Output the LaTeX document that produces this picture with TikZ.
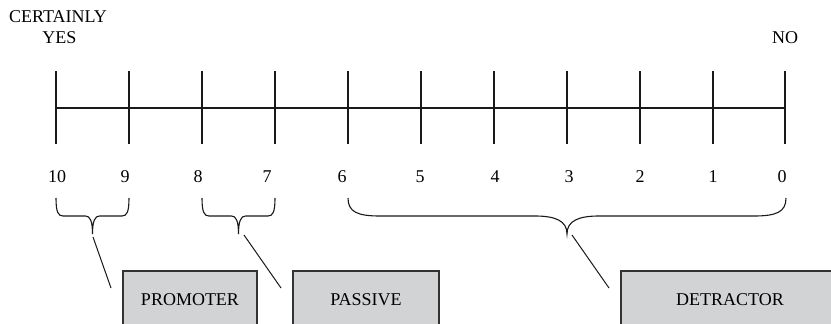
\documentclass[tikz,border=0pt]{standalone}
\usepackage{fontspec}
\setmainfont{Liberation Serif}
\begin{document}
\begin{tikzpicture}[x=1pt,y=-1pt,
    lbl/.style={anchor=base,inner sep=0pt,font=\fontsize{18}{21}\selectfont},
    catbox/.style={draw=black!80,line width=1.1pt,fill=boxgray,minimum height=58pt,
      inner sep=0pt,font=\fontsize{18}{21}\selectfont},
    scale line/.style={line width=1.1pt,black!90},
    bracepath/.style={line width=1.1pt,black!90},
    leader/.style={line width=1pt,black!90}]
  \definecolor{boxgray}{RGB}{209,211,212}
  \clip (0,0) rectangle (831,324);
  \useasboundingbox (0,0) rectangle (831,324);

  % end labels
  \node[lbl] (certainly) at (58,23) {CERTAINLY};
  \node[lbl] (yes) at (59.5,43) {YES};
  \node[lbl] (no) at (785,43) {NO};

  % scale: ticks and axis
  \foreach \i/\x in {0/56,1/129,2/202,3/275,4/348,5/421,6/494,7/567,8/640,9/713,10/785}{
    \coordinate (top\i) at (\x,71);
    \coordinate (bot\i) at (\x,144);
    \draw[scale line] (top\i) -- (bot\i);
  }
  \coordinate (axisL) at (56,108);
  \coordinate (axisR) at (785,108);
  \draw[scale line] (axisL) -- (axisR);

  % score labels
  \foreach \v/\x in {10/57,9/125,8/198,7/267,6/342,5/420,4/495,3/569,2/640,1/713,0/782}{
    \node[lbl] (n\v) at (\x,182) {\v};
  }

  % braces: left end, right end, centre, corner radius
  \newcommand{\groupbrace}[4]{%
    \draw[bracepath] (#1,198) .. controls (#1,212) and (#1+0.3*#4,216) .. (#1+#4,216)
      -- (#3-#4,216) .. controls (#3-0.35*#4,216) and (#3,221) .. (#3,234)
      .. controls (#3,221) and (#3+0.35*#4,216) .. (#3+#4,216)
      -- (#2-#4,216) .. controls (#2-0.3*#4,216) and (#2,212) .. (#2,198);}
  \groupbrace{56}{129}{92.5}{7}
  \groupbrace{202}{275}{238.5}{7}
  \groupbrace{348}{786}{567}{32}

  % category boxes
  \node[catbox,minimum width=134pt] (promoter) at (190,300) {PROMOTER};
  \node[catbox,minimum width=146pt] (passive) at (366,300) {PASSIVE};
  \node[catbox,minimum width=218pt] (detractor) at (730,300) {DETRACTOR};

  % leader lines from braces towards boxes
  \coordinate (tipA) at (93,237);
  \coordinate (endA) at (111,288);
  \coordinate (tipB) at (244,235);
  \coordinate (endB) at (281,288);
  \coordinate (tipC) at (572,235);
  \coordinate (endC) at (609,288);
  \draw[leader] (tipA) -- (endA);
  \draw[leader] (tipB) -- (endB);
  \draw[leader] (tipC) -- (endC);
\end{tikzpicture}
\end{document}
